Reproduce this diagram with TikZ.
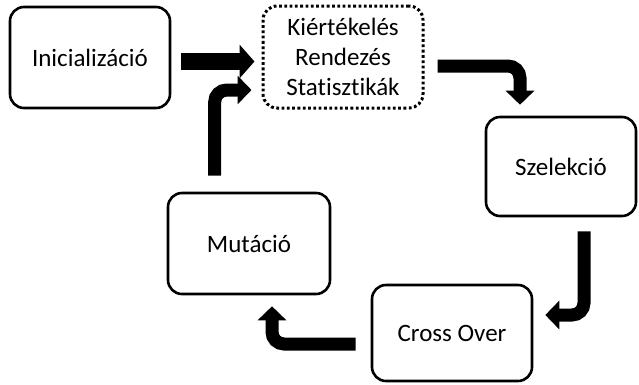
\documentclass[tikz,border=0pt]{standalone}
\usepackage{fontspec}
\setmainfont{Carlito}[Ligatures=NoCommon]
\usetikzlibrary{arrows.meta,calc}
\tikzset{
  box/.style={draw, line width=2.6pt, rounded corners=14pt, align=center,
    font=\fontsize{25}{30}\selectfont, inner sep=0pt},
  dotbox/.style={box, line width=3pt, dash pattern=on 2.8pt off 2.5pt, line cap=butt},
  fat/.style={line width=13pt, -{Triangle[length=14pt,width=28pt]}, rounded corners=12pt},
  fatstraight/.style={line width=17pt, -{Triangle[length=15pt,width=33pt]}},
}
\begin{document}
\begin{tikzpicture}[x=1pt,y=-1pt]
\useasboundingbox (0,0) rectangle (639,384);
\node[box, minimum width=160pt, minimum height=101pt] (ini) at (90,57.5) {Inicializáció};
\node[dotbox, minimum width=160pt, minimum height=102pt] (kie) at (343,57) {Kiértékelés\\Rendezés\\Statisztikák};
\node[box, minimum width=150pt, minimum height=99pt] (szel) at (561,166.5) {Szelekció};
\node[box, minimum width=162pt, minimum height=101pt] (mut) at (249,243.5) {Mutáció};
\node[box, minimum width=160pt, minimum height=96pt] (cross) at (452,333) {\raisebox{-4pt}{Cross Over}};

\draw[fatstraight] ($(ini.east)+(10,4)$) -- ($(kie.west)+(-7,4.5)$);
\draw[fat] ($(mut.north west)+(48,-16)$) |- ($(kie.west)+(-10,33)$);
\draw[fat] ($(kie.east)+(13,9)$) -| ($(szel.north)+(-41,-11)$);
\draw[fat] ($(szel.south)+(23,14)$) |- ($(cross.east)+(12,-18)$);
\draw[fat] ($(cross.west)+(-15,11)$) -| ($(mut.south)+(23,11)$);
\end{tikzpicture}
\end{document}
